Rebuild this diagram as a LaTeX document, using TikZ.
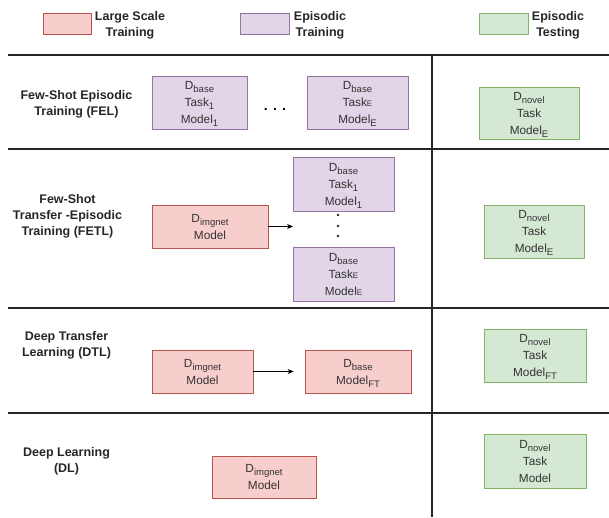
\documentclass[tikz,border=0pt]{standalone}
\usepackage{fontspec}
\setmainfont{Liberation Sans}
\usetikzlibrary{arrows.meta}
\definecolor{redfill}{HTML}{F8CECC}
\definecolor{redline}{HTML}{B85450}
\definecolor{purplefill}{HTML}{E1D5E7}
\definecolor{purpleline}{HTML}{9673A6}
\definecolor{greenfill}{HTML}{D5E8D4}
\definecolor{greenline}{HTML}{82B366}
\newcommand{\sub}[1]{\raisebox{-3pt}[0pt][0pt]{\fontsize{9.5}{9.5}\selectfont #1}}
\newcommand{\smallE}{{\fontsize{8}{8}\selectfont E}}
\tikzset{
  box/.style={draw,line width=0.8pt,inner sep=0pt,align=center,
    font=\fontsize{11.8}{17}\selectfont,text=black!80},
  redbox/.style={box,fill=redfill,draw=redline},
  purplebox/.style={box,fill=purplefill,draw=purpleline},
  greenbox/.style={box,fill=greenfill,draw=greenline},
  rowlabel/.style={align=center,font=\fontsize{12.5}{16}\selectfont\bfseries,text=black!85},
  legend/.style={align=center,font=\fontsize{12.5}{16}\selectfont\bfseries,text=black!85},
  rule/.style={line width=1.4pt,black!85},
}
\begin{document}
\begin{tikzpicture}[x=1pt,y=-1pt]
\useasboundingbox (0,0) rectangle (609,517);
% legend
\draw [redline,fill=redfill,line width=0.8pt] (43,13) rectangle (91,34);
\draw [purpleline,fill=purplefill,line width=0.8pt] (240,13) rectangle (289,34);
\draw [greenline,fill=greenfill,line width=0.8pt] (479,13) rectangle (528,34);
\node[legend] (legred) at (130,25) {Large Scale\\Training};
\node[legend] (legpurple) at (320,25) {Episodic\\Training};
\node[legend] (leggreen) at (558,25) {Episodic\\Testing};
% table rules
\draw [rule] (8,55) -- (609,55);
\draw [rule] (8,149) -- (609,149);
\draw [rule] (8,308) -- (609,308);
\draw [rule] (8,413) -- (609,413);
\draw [rule] (432,55) -- (432,517);
% FEL
\node[rowlabel] (fel) at (76.5,104) {Few-Shot Episodic\\Training (FEL)};
\node[purplebox,minimum width=95,minimum height=53] (felfirst) at (199.5,102.5) {D\sub{base}\\Task\sub{1}\\Model\sub{1}};
\node[font=\fontsize{14}{14}\selectfont\bfseries] (feldots) at (275,109) {. . .};
\node[purplebox,minimum width=101,minimum height=53] (fellast) at (357.5,102.5) {D\sub{base}\\Task\smallE\\Model\sub{E}};
\node[greenbox,minimum width=100,minimum height=52] (feltest) at (529,113) {D\sub{novel}\\Task\\Model\sub{E}};
% FETL
\node[rowlabel] (fetl) at (67.5,216) {Few-Shot\\Transfer -Episodic\\Training (FETL)};
\node[redbox,minimum width=116,minimum height=43] (fetlpre) at (210,226.5) {D\sub{imgnet}\\Model};
\node[purplebox,minimum width=101,minimum height=54] (fetlfirst) at (343.5,184) {D\sub{base}\\Task\sub{1}\\Model\sub{1}};
\node[purplebox,minimum width=101,minimum height=54] (fetllast) at (343.5,274) {D\sub{base}\\Task\smallE\\Model\smallE};
\foreach \y in {215,226,236}
  \fill [black!85] (338,\y) circle (1.4pt);
\coordinate (fetlend) at (293,226.5);
\draw [-{Stealth[length=6pt,width=5pt]},line width=0.8pt] (fetlpre) -- (fetlend);
\node[greenbox,minimum width=100,minimum height=53] (fetltest) at (534,231.5) {D\sub{novel}\\Task\\Model\sub{E}};
% DTL
\node[rowlabel] (dtl) at (66.5,345) {Deep Transfer\\Learning (DTL)};
\node[redbox,minimum width=101,minimum height=43] (dtlpre) at (202.5,371.5) {D\sub{imgnet}\\Model};
\node[redbox,minimum width=106,minimum height=43] (dtlfine) at (358,371.5) {D\sub{base}\\Model\sub{FT}};
\draw [-{Stealth[length=6pt,width=5pt]},line width=0.8pt,shorten >=11pt] (dtlpre) -- (dtlfine);
\node[greenbox,minimum width=102,minimum height=53] (dtltest) at (535,355.5) {D\sub{novel}\\Task\\Model\sub{FT}};
% DL
\node[rowlabel] (dl) at (66.5,461) {Deep Learning\\(DL)};
\node[redbox,minimum width=104,minimum height=42] (dlpre) at (264,477) {D\sub{imgnet}\\Model};
\node[greenbox,minimum width=102,minimum height=54] (dltest) at (535,461) {D\sub{novel}\\Task\\Model};
\end{tikzpicture}
\end{document}
